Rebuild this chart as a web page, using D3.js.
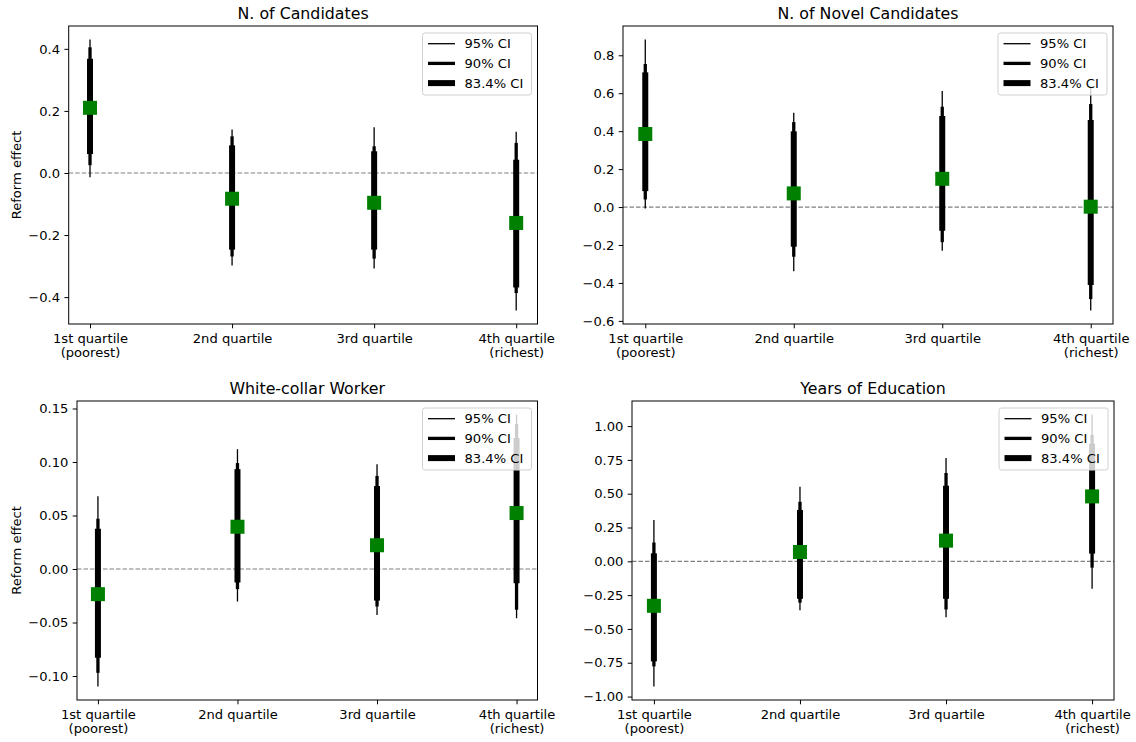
<!DOCTYPE html>
<html>
<head>
<meta charset="utf-8">
<script src="https://cdn.jsdelivr.net/npm/d3@7"></script>
<style>
  body { margin: 0; background: #fff; }
  text { font-family: "DejaVu Sans", sans-serif; }
</style>
</head>
<body>
<div id="chart"></div>
<script>
// categories (two-line tick labels)
var categories = [["1st quartile", "(poorest)"], ["2nd quartile"], ["3rd quartile"], ["4th quartile", "(richest)"]];
var ciLabels = ["95% CI", "90% CI", "83.4% CI"];

// N. of Candidates
var candEst = [0.21, -0.083, -0.096, -0.161];
var candCI95 = [[-0.014, 0.43], [-0.298, 0.14], [-0.308, 0.147], [-0.443, 0.133]];
var candCI90 = [[0.025, 0.405], [-0.269, 0.118], [-0.276, 0.086], [-0.387, 0.097]];
var candCI834 = [[0.061, 0.368], [-0.247, 0.089], [-0.247, 0.07], [-0.369, 0.043]];
var candTicks = [-0.4, -0.2, 0.0, 0.2, 0.4];

// N. of Novel Candidates
var novelEst = [0.385, 0.072, 0.149, 0.002];
var novelCI95 = [[-0.007, 0.883], [-0.338, 0.497], [-0.23, 0.612], [-0.545, 0.635]];
var novelCI90 = [[0.04, 0.754], [-0.262, 0.448], [-0.185, 0.529], [-0.485, 0.543]];
var novelCI834 = [[0.084, 0.71], [-0.209, 0.399], [-0.125, 0.48], [-0.411, 0.459]];
var novelTicks = [-0.6, -0.4, -0.2, 0.0, 0.2, 0.4, 0.6, 0.8];

// White-collar Worker
var whiteEst = [-0.0235, 0.0395, 0.0222, 0.0523];
var whiteCI95 = [[-0.1097, 0.068], [-0.0304, 0.112], [-0.043, 0.098], [-0.046, 0.1443]];
var whiteCI90 = [[-0.097, 0.047], [-0.0188, 0.099], [-0.035, 0.087], [-0.038, 0.1356]];
var whiteCI834 = [[-0.083, 0.0376], [-0.0126, 0.0933], [-0.0295, 0.0776], [-0.0132, 0.1225]];
var whiteTicks = [-0.10, -0.05, 0.00, 0.05, 0.10, 0.15];

// Years of Education
var eduEst = [-0.329, 0.069, 0.153, 0.48];
var eduCI95 = [[-0.925, 0.306], [-0.361, 0.551], [-0.413, 0.764], [-0.203, 1.085]];
var eduCI90 = [[-0.777, 0.139], [-0.306, 0.44], [-0.356, 0.653], [-0.047, 0.935]];
var eduCI834 = [[-0.74, 0.059], [-0.277, 0.38], [-0.277, 0.559], [0.057, 0.87]];
var eduTicks = [-1.00, -0.75, -0.50, -0.25, 0.00, 0.25, 0.50, 0.75, 1.00];

var panels = [
  {title: "N. of Candidates", est: candEst, cis: [candCI95, candCI90, candCI834], ticks: candTicks, fmt: ".1f",
   left: 68.7, right: 537.5, top: 26, bottom: 324, ylabel: true},
  {title: "N. of Novel Candidates", est: novelEst, cis: [novelCI95, novelCI90, novelCI834], ticks: novelTicks, fmt: ".1f",
   left: 623, right: 1113, top: 26, bottom: 324, ylabel: false},
  {title: "White-collar Worker", est: whiteEst, cis: [whiteCI95, whiteCI90, whiteCI834], ticks: whiteTicks, fmt: ".2f",
   left: 77, right: 537.5, top: 401, bottom: 700, ylabel: true},
  {title: "Years of Education", est: eduEst, cis: [eduCI95, eduCI90, eduCI834], ticks: eduTicks, fmt: ".2f",
   left: 632, right: 1114, top: 401, bottom: 700, ylabel: false}
];

var ciWidths = [1.3, 3.3, 6];
var fontSize = 13.1;

var svg = d3.select("#chart").append("svg")
    .attr("width", 1136)
    .attr("height", 742);

panels.forEach(drawPanel);

function drawPanel(p) {
  var x = d3.scaleLinear().domain([-0.15, 3.15]).range([p.left, p.right]);
  var all = d3.merge(p.cis[0]);
  var lo = d3.min(all), hi = d3.max(all), pad = (hi - lo) * 0.05;
  var y = d3.scaleLinear().domain([lo - pad, hi + pad]).range([p.bottom, p.top]);

  var g = svg.append("g");

  // zero reference line
  g.append("line")
      .attr("x1", p.left).attr("x2", p.right)
      .attr("y1", y(0)).attr("y2", y(0))
      .attr("stroke", "#808080")
      .attr("stroke-width", 1.2)
      .attr("stroke-dasharray", "4.5,2");

  // confidence intervals, thin to thick
  p.cis.forEach(function(ci, k) {
    g.append("g").selectAll("line")
        .data(ci)
        .enter().append("line")
        .attr("x1", function(d, i) { return x(i); })
        .attr("x2", function(d, i) { return x(i); })
        .attr("y1", function(d) { return y(d[0]); })
        .attr("y2", function(d) { return y(d[1]); })
        .attr("stroke", "#000")
        .attr("stroke-width", ciWidths[k]);
  });

  // point estimates
  var s = 14;
  g.append("g").selectAll("rect")
      .data(p.est)
      .enter().append("rect")
      .attr("x", function(d, i) { return x(i) - s / 2; })
      .attr("y", function(d) { return y(d) - s / 2; })
      .attr("width", s)
      .attr("height", s)
      .attr("fill", "#008000");

  // frame
  g.append("rect")
      .attr("x", p.left).attr("y", p.top)
      .attr("width", p.right - p.left).attr("height", p.bottom - p.top)
      .attr("fill", "none")
      .attr("stroke", "#000")
      .attr("stroke-width", 1);

  // y axis
  var yAxis = g.append("g")
      .attr("transform", "translate(" + p.left + ",0)")
      .call(d3.axisLeft(y).tickValues(p.ticks).tickFormat(d3.format(p.fmt))
            .tickSize(4.3).tickSizeOuter(0).tickPadding(4.3));
  yAxis.select(".domain").remove();
  yAxis.attr("font-family", "DejaVu Sans, sans-serif").attr("font-size", fontSize);
  yAxis.selectAll("text").attr("fill", "#000");

  // x axis
  var xAxis = g.append("g")
      .attr("transform", "translate(0," + p.bottom + ")")
      .call(d3.axisBottom(x).tickValues([0, 1, 2, 3]).tickFormat("")
            .tickSize(4.3).tickSizeOuter(0));
  xAxis.select(".domain").remove();
  xAxis.attr("font-family", "DejaVu Sans, sans-serif").attr("font-size", fontSize);
  xAxis.selectAll(".tick").each(function(d) {
    var t = d3.select(this).select("text").attr("dy", null).attr("y", null).text(null).attr("fill", "#000");
    categories[d].forEach(function(line, j) {
      t.append("tspan").attr("x", 0).attr("y", 18.5 + j * 14.6).text(line);
    });
  });

  // title
  g.append("text")
      .attr("x", (p.left + p.right) / 2)
      .attr("y", p.top - 7.4)
      .attr("text-anchor", "middle")
      .attr("font-size", 15.8)
      .text(p.title);

  if (p.ylabel) {
    g.append("text")
        .attr("transform", "translate(20.5," + (p.top + p.bottom) / 2 + ") rotate(-90)")
        .attr("text-anchor", "middle")
        .attr("font-size", fontSize)
        .text("Reform effect");
  }

  // legend
  var lw = 109, lh = 62;
  var lx = p.right - 6 - lw, ly = p.top + 7;
  var leg = g.append("g").attr("transform", "translate(" + lx + "," + ly + ")");
  leg.append("rect")
      .attr("width", lw).attr("height", lh)
      .attr("rx", 2.5)
      .attr("fill", "#fff").attr("fill-opacity", 0.8)
      .attr("stroke", "#d0d0d0").attr("stroke-width", 1);
  ciLabels.forEach(function(lab, k) {
    var cy = 10.7 + k * 19.7;
    leg.append("line")
        .attr("x1", 5.5).attr("x2", 32.5)
        .attr("y1", cy).attr("y2", cy)
        .attr("stroke", "#000")
        .attr("stroke-width", ciWidths[k]);
    leg.append("text")
        .attr("x", 42).attr("y", cy)
        .attr("dy", "0.36em")
        .attr("font-size", fontSize)
        .text(lab);
  });
}
</script>
</body>
</html>
